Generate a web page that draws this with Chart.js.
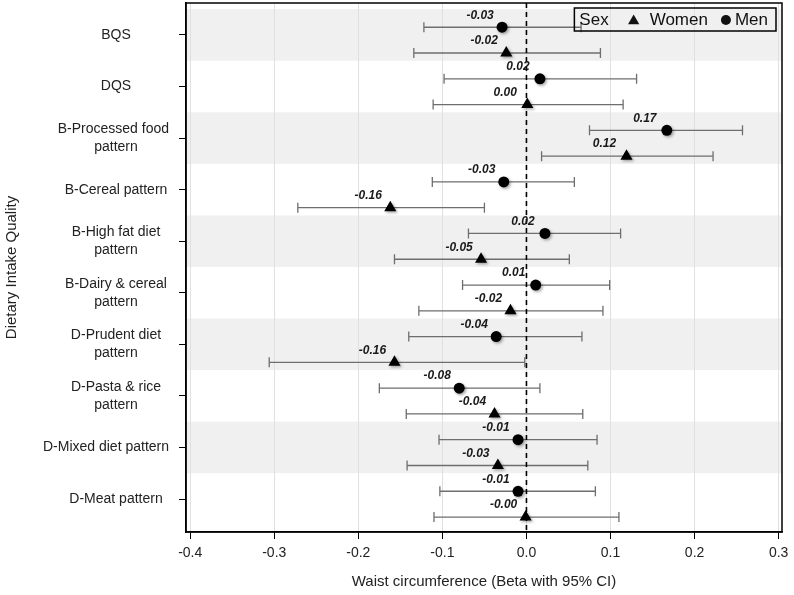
<!DOCTYPE html>
<html>
<head>
<meta charset="utf-8">
<script src="https://cdn.jsdelivr.net/npm/chart.js@4.4.1/dist/chart.umd.min.js"></script>
<style>
  html, body { margin: 0; padding: 0; background: #fff; }
  canvas { display: block; }
</style>
</head>
<body>
<canvas id="forest" width="794" height="595"></canvas>
<script>
// Forest plot: dietary intake quality vs waist circumference (beta with 95% CI)

const categories = [
  ["BQS"], ["DQS"], ["B-Processed food", "pattern"], ["B-Cereal pattern"],
  ["B-High fat diet", "pattern"], ["B-Dairy & cereal", "pattern"],
  ["D-Prudent diet", "pattern"], ["D-Pasta & rice", "pattern"],
  ["D-Mixed diet pattern"], ["D-Meat pattern"]
];

// Men (circles)
const menBeta = [-0.029, 0.016, 0.167, -0.027, 0.022, 0.011, -0.036, -0.080, -0.010, -0.010];
const menLow  = [-0.122, -0.098, 0.075, -0.112, -0.069, -0.076, -0.140, -0.175, -0.104, -0.103];
const menHigh = [0.065, 0.131, 0.257, 0.057, 0.112, 0.099, 0.066, 0.016, 0.084, 0.082];

// Women (triangles)
const womenBeta = [-0.024, 0.001, 0.119, -0.162, -0.054, -0.019, -0.157, -0.038, -0.034, -0.001];
const womenLow  = [-0.134, -0.111, 0.018, -0.272, -0.157, -0.128, -0.306, -0.143, -0.142, -0.110];
const womenHigh = [0.088, 0.115, 0.222, -0.050, 0.051, 0.091, -0.002, 0.067, 0.073, 0.110];

const xTicks = [-0.4, -0.3, -0.2, -0.1, 0.0, 0.1, 0.2, 0.3];

const FONT = "'Liberation Sans', Arial, sans-serif";

// rows inside a category band: men a bit above the middle, women near the bottom
const MEN_OFFSET = -0.15;
const WOMEN_OFFSET = 0.35;

const forestPlugin = {
  id: 'forest',
  // alternating grey bands behind everything
  beforeDraw(chart) {
    const { ctx, chartArea: a, scales: { y } } = chart;
    ctx.save();
    ctx.fillStyle = '#f0f0f0';
    categories.forEach((c, i) => {
      if (i % 2) return;
      const top = y.getPixelForValue(i - 0.5);
      const bot = y.getPixelForValue(i + 0.5);
      ctx.fillRect(a.left, top, a.right - a.left, bot - top);
    });
    ctx.restore();
  },
  // confidence intervals + dashed zero line
  beforeDatasetsDraw(chart) {
    const { ctx, chartArea: a, scales: { x, y } } = chart;
    ctx.save();
    ctx.strokeStyle = '#6e6e6e';
    ctx.lineWidth = 1.3;
    chart.data.datasets.forEach(ds => {
      ds.data.forEach((p, i) => {
        const py = y.getPixelForValue(p.y);
        const x1 = x.getPixelForValue(ds.low[i]);
        const x2 = x.getPixelForValue(ds.high[i]);
        ctx.beginPath();
        ctx.moveTo(x1, py); ctx.lineTo(x2, py);
        ctx.moveTo(x1, py - 5); ctx.lineTo(x1, py + 5);
        ctx.moveTo(x2, py - 5); ctx.lineTo(x2, py + 5);
        ctx.stroke();
      });
    });
    const x0 = x.getPixelForValue(0);
    ctx.strokeStyle = '#000';
    ctx.lineWidth = 1.6;
    ctx.setLineDash([5, 4]);
    ctx.beginPath();
    ctx.moveTo(x0, a.top);
    ctx.lineTo(x0, a.bottom);
    ctx.stroke();
    ctx.restore();
  },
  // soft shadow under the markers
  beforeDatasetDraw(chart) {
    const ctx = chart.ctx;
    ctx.save();
    ctx.shadowColor = 'rgba(0,0,0,0.35)';
    ctx.shadowBlur = 3;
    ctx.shadowOffsetX = 1.5;
    ctx.shadowOffsetY = 1.5;
  },
  afterDatasetDraw(chart) {
    chart.ctx.restore();
  },
  afterDraw(chart) {
    const { ctx, chartArea: a, scales: { y } } = chart;
    ctx.save();

    // value labels above each marker
    ctx.font = 'italic bold 12px ' + FONT;
    ctx.fillStyle = '#1a1a1a';
    ctx.textAlign = 'center';
    ctx.textBaseline = 'middle';
    chart.data.datasets.forEach((ds, d) => {
      const meta = chart.getDatasetMeta(d);
      ds.data.forEach((p, i) => {
        const pt = meta.data[i];
        ctx.fillText(p.x.toFixed(2), pt.x - 22, pt.y - 12);
      });
    });

    // category labels on the y axis
    ctx.font = '14px ' + FONT;
    ctx.fillStyle = '#222';
    ctx.textAlign = 'right';
    const rightEdge = a.left - 17;
    const centerX = a.left - 70;
    categories.forEach((lines, i) => {
      const py = y.getPixelForValue(i);
      const y0 = py - (lines.length - 1) * 18 / 2;
      lines.forEach((line, k) => {
        const w = ctx.measureText(line).width;
        ctx.fillText(line, Math.min(rightEdge, centerX + w / 2), y0 + k * 18);
      });
    });

    // frame
    ctx.strokeStyle = '#000';
    ctx.lineWidth = 1.5;
    ctx.strokeRect(a.left, a.top, a.right - a.left, a.bottom - a.top);

    // legend box: "Sex  ▲ Women  ● Men"
    ctx.font = '17px ' + FONT;
    ctx.textAlign = 'left';
    ctx.fillStyle = '#111';
    const wSex = ctx.measureText('Sex').width;
    const wWomen = ctx.measureText('Women').width;
    const wMen = ctx.measureText('Men').width;
    const boxW = 5 + wSex + 25 + 16 + wWomen + 18 + 9 + wMen + 8;
    const boxR = a.right - 6;
    const boxL = boxR - boxW;
    const boxT = a.top + 5;
    const boxH = 23;
    const cy = boxT + boxH / 2 + 0.5;
    ctx.strokeRect(boxL, boxT, boxW, boxH);
    let cx = boxL + 5;
    ctx.fillText('Sex', cx, cy);
    cx += wSex + 25;
    Chart.helpers.drawPoint(ctx, { pointStyle: 'triangle', radius: 6.5, rotation: 0, borderWidth: 0 }, cx, cy + 1);
    cx += 16;
    ctx.fillText('Women', cx, cy);
    cx += wWomen + 18;
    Chart.helpers.drawPoint(ctx, { pointStyle: 'circle', radius: 5, rotation: 0, borderWidth: 0 }, cx, cy);
    cx += 9;
    ctx.fillText('Men', cx, cy);

    ctx.restore();
  }
};

const ctx = document.getElementById('forest').getContext('2d');

new Chart(ctx, {
  type: 'scatter',
  data: {
    datasets: [
      {
        label: 'Men',
        data: menBeta.map((v, i) => ({ x: v, y: i + MEN_OFFSET })),
        low: menLow,
        high: menHigh,
        pointStyle: 'circle',
        pointRadius: 5.5,
        backgroundColor: '#000',
        borderColor: '#000',
        borderWidth: 0
      },
      {
        label: 'Women',
        data: womenBeta.map((v, i) => ({ x: v, y: i + WOMEN_OFFSET })),
        low: womenLow,
        high: womenHigh,
        pointStyle: 'triangle',
        pointRadius: 7,
        backgroundColor: '#000',
        borderColor: '#000',
        borderWidth: 0
      }
    ]
  },
  options: {
    responsive: false,
    animation: false,
    layout: { autoPadding: false, padding: { left: 0, right: 12, top: 3, bottom: 0 } },
    plugins: {
      legend: { display: false },
      tooltip: { enabled: false }
    },
    scales: {
      x: {
        type: 'linear',
        min: -0.405,
        max: 0.304,
        afterBuildTicks: scale => { scale.ticks = xTicks.map(v => ({ value: v })); },
        afterFit: scale => {
          scale.height = 63;
          scale.paddingLeft = 0;
          scale.paddingRight = 0;
        },
        ticks: {
          callback: v => v.toFixed(1),
          font: { family: FONT, size: 14 },
          color: '#222',
          padding: 6,
          maxRotation: 0
        },
        grid: { color: '#e0e0e0', lineWidth: 1, tickColor: '#000', tickLength: 7 },
        border: { color: '#000', width: 1.5 },
        title: {
          display: true,
          text: 'Waist circumference (Beta with 95% CI)',
          font: { family: FONT, size: 15 },
          color: '#222',
          padding: { top: 4, bottom: 4 }
        }
      },
      y: {
        type: 'linear',
        reverse: true,
        min: -0.62,
        max: 9.64,
        afterBuildTicks: scale => { scale.ticks = categories.map((c, i) => ({ value: i })); },
        afterFit: scale => {
          scale.width = 186;
          scale.paddingTop = 0;
          scale.paddingBottom = 0;
        },
        ticks: { display: false },
        grid: { drawOnChartArea: false, drawTicks: true, tickLength: 7, tickColor: '#000' },
        border: { color: '#000', width: 1.5 },
        title: {
          display: true,
          text: 'Dietary Intake Quality',
          font: { family: FONT, size: 15 },
          color: '#222',
          padding: { top: 3, bottom: 0 }
        }
      }
    }
  },
  plugins: [forestPlugin]
});
</script>
</body>
</html>
